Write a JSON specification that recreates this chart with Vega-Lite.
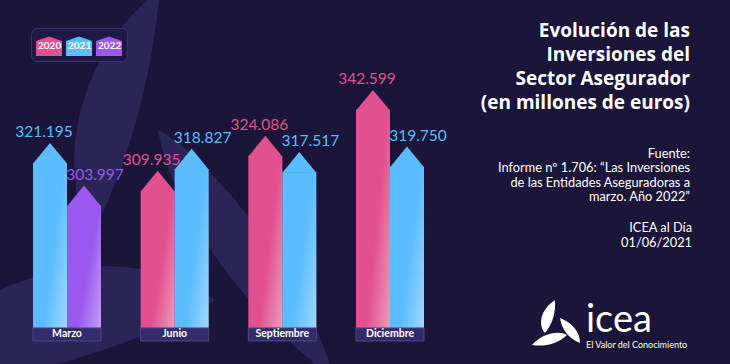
{
  "$schema": "https://vega.github.io/schema/vega-lite/v6.json",
  "width": 431,
  "height": 321,
  "autosize": {"type": "none"},
  "padding": {"left": 13, "top": 20, "right": 286, "bottom": 23},
  "background": "#1A1539",
  "config": {
    "view": {"stroke": null},
    "locale": {"number": {"decimal": ",", "thousands": ".", "grouping": [3], "currency": ["", " €"]}}
  },
  "title": {
    "text": ["Evolución de las", "Inversiones del", "Sector Asegurador", "(en millones de euros)"],
    "subtitle": ["Fuente:", "Informe nº 1.706: “Las Inversiones", "de las Entidades Aseguradoras a", "marzo. Año 2022”"],
    "anchor": "end",
    "frame": "group",
    "orient": "top",
    "dx": 246,
    "offset": -214,
    "font": "Open Sans",
    "fontSize": 19,
    "fontWeight": "bold",
    "color": "white",
    "lineHeight": 24,
    "subtitleFont": "Lato",
    "subtitleFontSize": 12.8,
    "subtitleColor": "white",
    "subtitleLineHeight": 14.5,
    "subtitlePadding": 35
  },
  "datasets": {
    "inversiones": [
      {"mes": "Marzo", "anio": "2021", "orden": "primero", "valor": 321195},
      {"mes": "Marzo", "anio": "2022", "orden": "segundo", "valor": 303997},
      {"mes": "Junio", "anio": "2020", "orden": "primero", "valor": 309935},
      {"mes": "Junio", "anio": "2021", "orden": "segundo", "valor": 318827},
      {"mes": "Septiembre", "anio": "2020", "orden": "primero", "valor": 324086},
      {"mes": "Septiembre", "anio": "2021", "orden": "segundo", "valor": 317517},
      {"mes": "Diciembre", "anio": "2020", "orden": "primero", "valor": 342599},
      {"mes": "Diciembre", "anio": "2021", "orden": "segundo", "valor": 319750}
    ],
    "meses": [
      {"mes": "Marzo"}, {"mes": "Junio"}, {"mes": "Septiembre"}, {"mes": "Diciembre"}
    ],
    "logo": [
      {"nombre": "icea", "lema": "El Valor del Conocimiento", "publicacion": ["ICEA al Día", "01/06/2021"]}
    ]
  },
  "layer": [
    {
      "data": {"name": "logo"},
      "mark": {"type": "point", "filled": true, "opacity": 1, "color": "#2A2457", "size": 40000, "xOffset": -63.5, "yOffset": -40.5,
        "shape": "M-0.05,-1.5C-0.75,-1.0 -1.15,0.1 -0.75,1.0C-0.45,0.4 -0.15,-0.4 -0.05,-1.5ZM-0.07,-0.1C0.35,0.1 1.35,1.2 1.7,2.4C0.65,1.6 0.05,0.6 -0.07,-0.1ZM0.5,1.6C-0.15,1.1 -1.15,1.2 -1.85,1.6L-1.85,2.4C-1.05,2.3 0.05,1.9 0.5,1.6Z"},
      "encoding": {}
    },
    {
      "data": {"name": "inversiones"},
      "layer": [
        {
          "mark": {"type": "bar", "strokeWidth": 0},
          "encoding": {
            "x": {"field": "mes", "type": "nominal", "sort": ["Marzo", "Junio", "Septiembre", "Diciembre"], "scale": {"paddingInner": 0.3684, "paddingOuter": 0.1858}, "axis": null},
            "xOffset": {"field": "orden", "type": "nominal", "scale": {"paddingInner": 0, "paddingOuter": 0}},
            "y": {"field": "valor", "type": "quantitative", "scale": {"domain": [249300, 379000], "zero": false, "nice": false}, "axis": null},
            "y2": {"datum": 254590},
            "color": {
              "field": "anio", "type": "nominal",
              "scale": {"domain": ["2020", "2021", "2022"], "range": ["#E2508F", "#5BBDFD", "#9A58EE"]},
              "legend": {
                "title": null, "orient": "none", "legendX": 18, "legendY": 8, "direction": "horizontal",
                "symbolType": "M-1,-0.4L0,-0.75L1,-0.4L1,0.75L-1,0.75Z", "symbolSize": 676, "symbolStrokeWidth": 0, "symbolOpacity": 1,
                "labelOffset": -24, "labelColor": "white", "labelFont": "Lato", "labelFontSize": 10, "labelFontWeight": "bold",
                "columnPadding": 4, "fillColor": "#1D1845", "strokeColor": "#3A3568", "cornerRadius": 6, "padding": 5
              }
            }
          }
        },
        {
          "mark": {
            "type": "bar", "strokeWidth": 0,
            "color": {"gradient": "linear", "x1": 0, "y1": 0.35, "x2": 1, "y2": 1,
              "stops": [{"offset": 0, "color": "rgba(255,255,255,0)"}, {"offset": 0.5, "color": "rgba(255,255,255,0)"}, {"offset": 1, "color": "rgba(255,255,255,0.42)"}]}
          },
          "encoding": {
            "x": {"field": "mes", "type": "nominal", "sort": ["Marzo", "Junio", "Septiembre", "Diciembre"]},
            "xOffset": {"field": "orden", "type": "nominal"},
            "y": {"field": "valor", "type": "quantitative"},
            "y2": {"datum": 254590}
          }
        },
        {
          "mark": {"type": "point", "filled": true, "opacity": 1, "shape": "M-1,0.03L0,-1.18L1,0.03Z", "size": 1156, "strokeWidth": 0},
          "encoding": {
            "x": {"field": "mes", "type": "nominal", "sort": ["Marzo", "Junio", "Septiembre", "Diciembre"]},
            "xOffset": {"field": "orden", "type": "nominal"},
            "y": {"field": "valor", "type": "quantitative"},
            "color": {"field": "anio", "type": "nominal", "legend": null}
          }
        },
        {
          "transform": [{"filter": "datum.orden == 'primero'"}],
          "mark": {"type": "text", "font": "Lato", "fontSize": 15.5, "baseline": "alphabetic", "dy": -26, "dx": -6},
          "encoding": {
            "x": {"field": "mes", "type": "nominal", "sort": ["Marzo", "Junio", "Septiembre", "Diciembre"]},
            "xOffset": {"field": "orden", "type": "nominal"},
            "y": {"field": "valor", "type": "quantitative"},
            "text": {"field": "valor", "type": "quantitative", "format": ",d"},
            "color": {"field": "anio", "type": "nominal", "legend": null}
          }
        },
        {
          "transform": [{"filter": "datum.orden == 'segundo'"}],
          "mark": {"type": "text", "font": "Lato", "fontSize": 15.5, "baseline": "alphabetic", "dy": -26, "dx": 11},
          "encoding": {
            "x": {"field": "mes", "type": "nominal", "sort": ["Marzo", "Junio", "Septiembre", "Diciembre"]},
            "xOffset": {"field": "orden", "type": "nominal"},
            "y": {"field": "valor", "type": "quantitative"},
            "text": {"field": "valor", "type": "quantitative", "format": ",d"},
            "color": {"field": "anio", "type": "nominal", "legend": null}
          }
        }
      ]
    },
    {
      "data": {"name": "meses"},
      "mark": {"type": "bar", "fill": "#332C6A", "stroke": "#4C4688", "strokeWidth": 1},
      "encoding": {
        "x": {"field": "mes", "type": "nominal", "sort": ["Marzo", "Junio", "Septiembre", "Diciembre"]},
        "y": {"datum": 254590},
        "y2": {"datum": 249300}
      }
    },
    {
      "data": {"name": "meses"},
      "mark": {"type": "text", "font": "Lato", "fontSize": 10.5, "fontWeight": "bold", "color": "white", "baseline": "middle"},
      "encoding": {
        "x": {"field": "mes", "type": "nominal", "sort": ["Marzo", "Junio", "Septiembre", "Diciembre"]},
        "y": {"datum": 251930},
        "text": {"field": "mes"}
      }
    },
    {
      "data": {"name": "logo"},
      "mark": {"type": "text", "font": "Lato", "fontSize": 12.8, "color": "white", "align": "right", "baseline": "alphabetic", "lineHeight": 15, "dx": 302},
      "encoding": {
        "x": {"datum": "Diciembre"},
        "y": {"datum": 293343},
        "text": {"field": "publicacion"}
      }
    },
    {
      "data": {"name": "logo"},
      "mark": {"type": "text", "font": "Lato", "fontSize": 38, "color": "white", "align": "left", "baseline": "alphabetic", "dx": 196},
      "encoding": {
        "x": {"datum": "Diciembre"},
        "y": {"datum": 252900},
        "text": {"field": "nombre"}
      }
    },
    {
      "data": {"name": "logo"},
      "mark": {"type": "text", "font": "Lato", "fontSize": 9, "color": "white", "align": "left", "baseline": "alphabetic", "dx": 196},
      "encoding": {
        "x": {"datum": "Diciembre"},
        "y": {"datum": 246500},
        "text": {"field": "lema"}
      }
    },
    {
      "data": {"name": "logo"},
      "mark": {"type": "point", "filled": true, "opacity": 1, "color": "white", "size": 400, "xOffset": 329.5, "yOffset": 144.5,
        "shape": "M-0.3,-2.5C-1.8,-1.5 -2.0,0 -1.3,0.8C-0.6,0 -0.2,-1.2 -0.3,-2.5ZM0.2,-0.7C1.4,-0.2 2.2,0.6 2.2,1.8C1.2,1.4 0.4,0.6 0.2,-0.7ZM0.9,1.0C0,0.5 -1.6,0.9 -2.6,2.0C-1.4,2.2 0,1.9 0.9,1.0Z"},
      "encoding": {}
    }
  ]
}
